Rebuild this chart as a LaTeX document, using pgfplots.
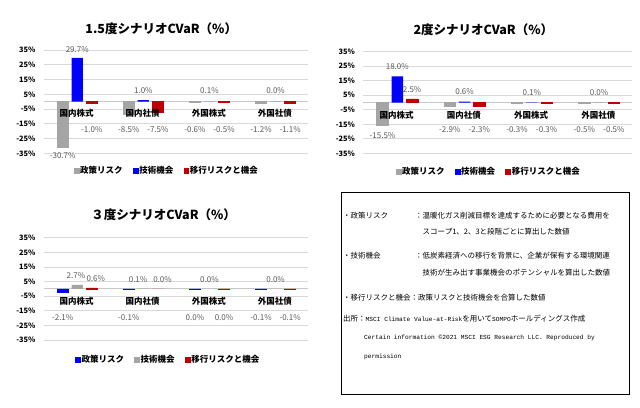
\documentclass[border=0pt]{standalone}
\usepackage{pgfplots}
\pgfplotsset{compat=1.18}
\usepackage{fontspec}
\setmainfont{Noto Sans CJK JP}
\newfontfamily\monofont{Liberation Mono}
\definecolor{cgray}{HTML}{A5A5A5}
\definecolor{cblue}{HTML}{0000FF}
\definecolor{cred}{HTML}{C00000}
\definecolor{cgrid}{HTML}{D9D9D9}
\definecolor{czero}{HTML}{C8C8C8}
\definecolor{clbl}{HTML}{595959}
\newcommand{\fs}[1]{\fontsize{#1bp}{#1bp}\selectfont}
\pgfplotsset{
  cvar/.style={
    scale only axis, anchor=south west,
    xmin=-0.5, xmax=3.5, ymin=-35, ymax=35,
    ytick={-35,-25,...,35},
    xtick=\empty,
    axis x line*=middle, axis y line*=left,
    y axis line style={draw=none},
    x axis line style={draw=czero, line width=0.8bp},
    major tick length=0pt,
    ymajorgrids, grid style={draw=cgrid, line width=0.6bp},
    yticklabel={\pgfmathprintnumber[assume math mode=true]{\tick}\%},
    yticklabel style={font=\fs{7.4}\bfseries, anchor=east, inner sep=0pt, xshift=-7.8bp},
    clip=false,
    legend style={anchor=center, draw=none, fill=none, legend columns=-1,
      font=\fs{8.5}\bfseries, inner sep=0pt,
      /tikz/every even column/.append style={column sep=9bp},
      nodes={inner sep=1.2bp}},
    legend cell align=left,
  },
  barA/.style={ybar, bar width=0.17, bar shift=0pt, forget plot, fill=#1, draw=#1, line width=0.6bp},
  barB/.style={ybar, bar width=0.17, bar shift=0pt, forget plot, fill=#1, draw=none},
  lbls/.style={forget plot, draw=none, mark=none, point meta=explicit symbolic,
    nodes near coords={\pgfplotspointmeta\%},
    every node near coord/.append style={anchor=center, font=\fs{8}, text=clbl, inner sep=0pt}},
  cats/.style={forget plot, draw=none, mark=none, point meta=explicit symbolic,
    nodes near coords={\pgfplotspointmeta},
    every node near coord/.append style={anchor=center, font=\fs{8.5}\bfseries, text=black, inner sep=0pt}},
}
\begin{document}
\begin{tikzpicture}
\useasboundingbox (0,0) rectangle (640bp,408bp);
\fill[white] (0,0) rectangle (640bp,408bp);

% ---------- 1.5 degree ----------
\begin{axis}[cvar, at={(43.5bp,254.7bp)}, width=264.5bp, height=103.3bp,
  legend style={at={(axis description cs:0.465,-0.171)}}]
\addplot[barA=cgray] coordinates {(-0.21,-30.7) (0.79,-8.5) (1.79,-0.6) (2.79,-1.2)};
\addplot[barB=cblue] coordinates {(0.01,29.7) (1.01,1.0) (2.01,0.1) (3.01,0.0)};
\addplot[barA=cred] coordinates {(0.23,-1.0) (1.23,-7.5) (2.23,-0.5) (3.23,-1.1)};
\addplot[cats] coordinates {(0,-8.0) [国内株式] (1,-8.0) [国内社債] (2,-8.0) [外国株式] (3,-8.0) [外国社債]};
\addplot[lbls] coordinates {
  (-0.21,-36.6) [-30.7] (0.79,-19.2) [-8.5] (1.79,-19.2) [-0.6] (2.79,-19.2) [-1.2]
  (0.01,35.2) [29.7] (1.01,7.3) [1.0] (2.01,7.3) [0.1] (3.01,7.3) [0.0]
  (0.23,-19.2) [-1.0] (1.23,-19.2) [-7.5] (2.23,-19.2) [-0.5] (3.23,-19.2) [-1.1]};
\addlegendimage{legend image code/.code={\fill[cgray] (0bp,-2.4bp) rectangle (4.8bp,2.4bp);}}
\addlegendentry{政策リスク}
\addlegendimage{legend image code/.code={\fill[cblue] (0bp,-2.4bp) rectangle (4.8bp,2.4bp);}}
\addlegendentry{技術機会}
\addlegendimage{legend image code/.code={\fill[cred] (0bp,-2.4bp) rectangle (4.8bp,2.4bp);}}
\addlegendentry{移行リスクと機会}
\end{axis}

% ---------- 2 degree ----------
\begin{axis}[cvar, at={(363bp,254.7bp)}, width=269bp, height=101.6bp,
  legend style={at={(axis description cs:0.466,-0.181)}}]
\addplot[barA=cgray] coordinates {(-0.21,-15.5) (0.79,-2.9) (1.79,-0.3) (2.79,-0.5)};
\addplot[barB=cblue] coordinates {(0.01,18.0) (1.01,0.6) (2.01,0.1) (3.01,0.0)};
\addplot[barA=cred] coordinates {(0.23,2.5) (1.23,-2.3) (2.23,-0.3) (3.23,-0.5)};
\addplot[cats] coordinates {(0,-8.6) [国内株式] (1,-8.6) [国内社債] (2,-8.6) [外国株式] (3,-8.6) [外国社債]};
\addplot[lbls] coordinates {
  (-0.21,-22.9) [-15.5] (0.79,-18.9) [-2.9] (1.79,-18.9) [-0.3] (2.79,-18.9) [-0.5]
  (0.01,24.7) [18.0] (1.01,7.4) [0.6] (2.01,6.8) [0.1] (3.01,6.8) [0.0]
  (0.23,9.1) [2.5] (1.23,-18.9) [-2.3] (2.23,-18.9) [-0.3] (3.23,-18.9) [-0.5]};
\addlegendimage{legend image code/.code={\fill[cgray] (0bp,-2.4bp) rectangle (4.8bp,2.4bp);}}
\addlegendentry{政策リスク}
\addlegendimage{legend image code/.code={\fill[cblue] (0bp,-2.4bp) rectangle (4.8bp,2.4bp);}}
\addlegendentry{技術機会}
\addlegendimage{legend image code/.code={\fill[cred] (0bp,-2.4bp) rectangle (4.8bp,2.4bp);}}
\addlegendentry{移行リスクと機会}
\end{axis}

% ---------- 3 degree ----------
\begin{axis}[cvar, at={(43.5bp,68bp)}, width=264.5bp, height=102.3bp,
  legend style={at={(axis description cs:0.47,-0.189)}}]
\addplot[barA=cblue] coordinates {(-0.21,-2.1) (0.79,-0.1) (1.79,-0.04) (2.79,-0.1)};
\addplot[barB=cgray] coordinates {(0.01,2.7) (1.01,0.1) (2.01,0.0) (3.01,0.0)};
\addplot[barA=cred] coordinates {(0.23,0.6) (2.23,-0.04) (3.23,-0.1)};
\addplot[barB=cred] coordinates {(1.23,0.0)};
\addplot[cats] coordinates {(0,-8.3) [国内株式] (1,-8.3) [国内社債] (2,-8.3) [外国株式] (3,-8.3) [外国社債]};
\addplot[lbls] coordinates {
  (-0.21,-19.8) [-2.1] (0.79,-19.8) [-0.1] (1.79,-19.6) [0.0] (2.79,-19.6) [-0.1]
  (-0.01,8.9) [2.7] (0.93,6.2) [0.1] (2.01,6.2) [0.0] (3.01,6.2) [0.0]
  (0.29,6.8) [0.6] (1.3,6.2) [0.0] (2.23,-19.6) [0.0] (3.23,-19.6) [-0.1]};
\addlegendimage{legend image code/.code={\fill[cblue] (0bp,-2.4bp) rectangle (4.8bp,2.4bp);}}
\addlegendentry{政策リスク}
\addlegendimage{legend image code/.code={\fill[cgray] (0bp,-2.4bp) rectangle (4.8bp,2.4bp);}}
\addlegendentry{技術機会}
\addlegendimage{legend image code/.code={\fill[cred] (0bp,-2.4bp) rectangle (4.8bp,2.4bp);}}
\addlegendentry{移行リスクと機会}
\end{axis}

% ---------- titles ----------
\node[font=\fs{12.5}\bfseries, inner sep=0pt] at (161.2bp,379.7bp) {1.5度シナリオCVaR（\%）};
\node[font=\fs{12.5}\bfseries, inner sep=0pt] at (483.3bp,378.5bp) {2度シナリオCVaR（\%）};
\node[font=\fs{12.5}\bfseries, inner sep=0pt] at (163.7bp,193bp) {３度シナリオCVaR（\%）};

% ---------- text box ----------
\draw[line width=0.8bp] (341.7bp,13.7bp) rectangle (629bp,216bp);
\begin{scope}[every node/.style={anchor=west, inner sep=0pt, font=\fs{7.5}}]
\node at (343bp,192bp) {・政策リスク};
\node at (415bp,192bp) {：温暖化ガス削減目標を達成するために必要となる費用を};
\node at (422.5bp,176bp) {スコープ1、2、3と段階ごとに算出した数値};
\node at (343bp,152bp) {・技術機会};
\node at (415bp,152bp) {：低炭素経済への移行を背景に、企業が保有する環境関連};
\node at (422.5bp,135bp) {技術が生み出す事業機会のポテンシャルを算出した数値};
\node at (343bp,110bp) {・移行リスクと機会：政策リスクと技術機会を合算した数値};
\node at (343bp,89bp) {出所：{\monofont\fs{6.2}MSCI Climate Value-at-Risk}を用いて{\monofont\fs{6.2}SOMPO}ホールディングス作成};
\node at (364bp,70bp) {\monofont\fs{6.2}Certain information ©2021 MSCI ESG Research LLC. Reproduced by};
\node at (364bp,51bp) {\monofont\fs{6.2}permission};
\end{scope}
\end{tikzpicture}
\end{document}
